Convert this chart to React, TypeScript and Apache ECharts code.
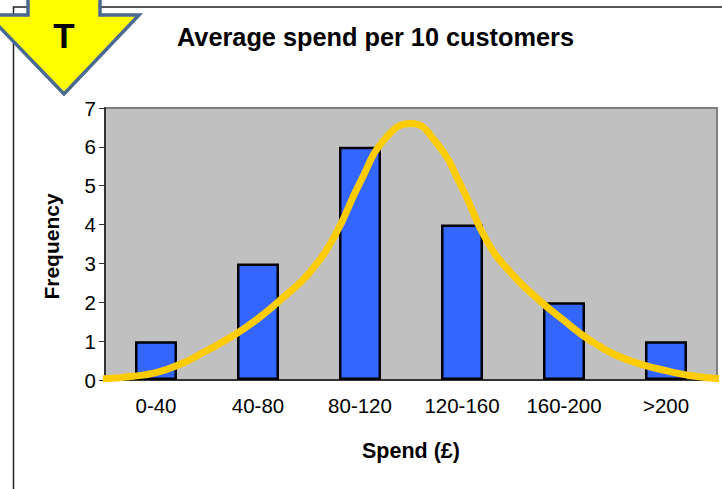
import React, { useEffect, useRef } from "react";
import * as echarts from "echarts";

const spendBands = ["0-40", "40-80", "80-120", "120-160", "160-200", ">200"];
const frequencies = [1, 3, 6, 4, 2, 1];
const frequencyTicks = [0, 1, 2, 3, 4, 5, 6, 7];

// Fitted distribution curve, as [band position, frequency]
const curvePositions = [-0.02, 0.25, 0.5, 0.75, 1.0, 1.25, 1.5, 1.75, 2.0, 2.25, 2.5, 2.75, 3.0, 3.25, 3.5, 3.75, 4.0, 4.25, 4.5, 4.75, 5.0, 5.25, 5.5, 5.75, 6.02];
const curveValues = [0.03, 0.09, 0.19, 0.42, 0.76, 1.13, 1.58, 2.13, 2.75, 3.7, 5.08, 6.22, 6.6, 6.1, 4.95, 3.55, 2.7, 2.07, 1.53, 1.03, 0.65, 0.41, 0.24, 0.11, 0.03];

const fontFamily = "'Liberation Sans', Arial, sans-serif";

export default function App() {
  const ref = useRef<HTMLDivElement>(null);

  useEffect(() => {
    document.body.style.margin = "0";
    document.body.style.background = "#fff";
    const chart = echarts.init(ref.current!, undefined, { renderer: "svg" });
    chart.setOption({
      animation: false,
      backgroundColor: "#ffffff",
      title: {
        text: "Average spend per 10 customers",
        left: 177,
        top: 24,
        padding: 0,
        textStyle: { fontFamily, fontSize: 25.3, fontWeight: "bold", color: "#000" },
      },
      grid: {
        left: 105,
        top: 108,
        width: 612,
        height: 272,
        show: true,
        backgroundColor: "#c0c0c0",
        borderColor: "#808080",
        borderWidth: 2,
      },
      xAxis: [
        {
          type: "category",
          data: spendBands,
          name: "Spend (£)",
          nameLocation: "middle",
          nameGap: 60,
          nameTextStyle: { fontFamily, fontSize: 21.5, fontWeight: "bold", color: "#000" },
          axisLine: { lineStyle: { color: "#333", width: 2 } },
          axisTick: { length: 6, lineStyle: { color: "#333", width: 1 } },
          axisLabel: { fontFamily, fontSize: 20.5, color: "#000", margin: 15 },
        },
        { type: "value", min: 0, max: 6, show: false },
      ],
      yAxis: {
        type: "value",
        min: frequencyTicks[0],
        max: frequencyTicks[frequencyTicks.length - 1],
        interval: 1,
        name: "Frequency",
        nameLocation: "middle",
        nameGap: 43,
        nameTextStyle: { fontFamily, fontSize: 21, fontWeight: "bold", color: "#000", padding: [0, 5, 0, 0] },
        splitLine: { show: false },
        axisLine: { show: true, lineStyle: { color: "#333", width: 2 } },
        axisTick: { show: true, length: 6, lineStyle: { color: "#333", width: 1 } },
        axisLabel: { fontFamily, fontSize: 20.5, color: "#000", margin: 9 },
      },
      series: [
        {
          type: "bar",
          data: frequencies,
          barWidth: 42,
          itemStyle: { color: "#3366ff", borderColor: "#000", borderWidth: 2.5 },
          z: 2,
        },
        {
          type: "line",
          xAxisIndex: 1,
          data: curvePositions.map((p, i) => [p, curveValues[i]]),
          smooth: 0.5,
          showSymbol: false,
          clip: false,
          lineStyle: { color: "#ffcc00", width: 7 },
          z: 3,
        },
      ],
      graphic: [
        // Slide frame behind the chart
        {
          type: "polyline",
          z: 5,
          shape: { points: [[722, 7], [13.5, 7], [13.5, 489]] },
          style: { fill: "none", stroke: "#222", lineWidth: 1.5 },
        },
        // Yellow arrow in the top-left corner
        {
          type: "polygon",
          z: 6,
          shape: { points: [[28, -5], [100, -5], [100, 15], [139, 15], [64, 94], [-12, 15], [28, 15]] },
          style: { fill: "#ffff00", stroke: "#4a6a94", lineWidth: 3.5 },
        },
        {
          type: "text",
          z: 7,
          x: 64,
          y: 35,
          style: {
            text: "T",
            fontFamily,
            fontSize: 35,
            fontWeight: "bold",
            fill: "#000",
            align: "center",
            verticalAlign: "middle",
          },
        },
      ],
    });
    return () => chart.dispose();
  }, []);

  return <div ref={ref} style={{ width: 722, height: 489 }} />;
}
